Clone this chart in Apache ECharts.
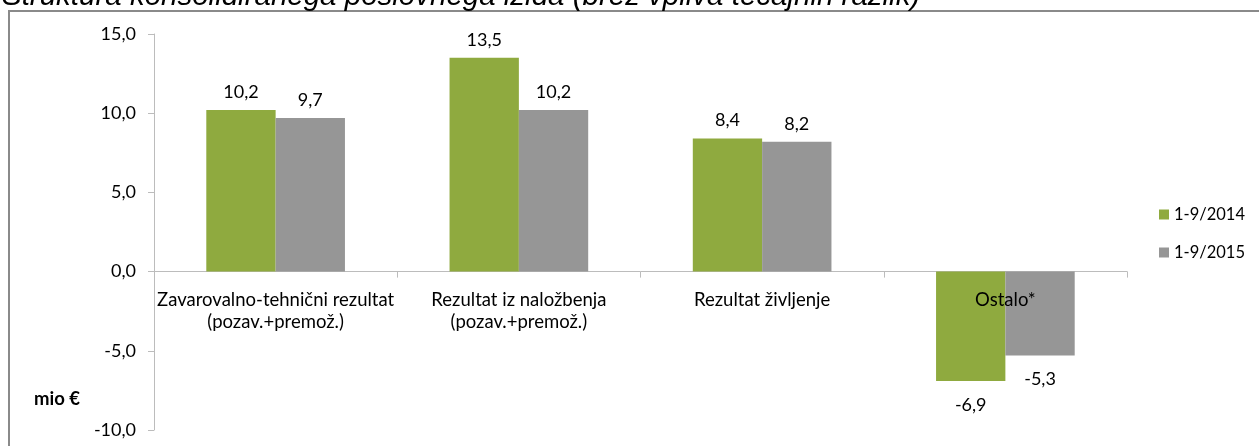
<!DOCTYPE html>
<html>
<head>
<meta charset="utf-8">
<script src="https://cdn.jsdelivr.net/npm/echarts@6/dist/echarts.min.js"></script>
<style>
  html, body { margin: 0; padding: 0; background: #fff; }
  #main { width: 1259px; height: 446px; }
</style>
</head>
<body>
<div id="main"></div>
<script>
// kategorije in vrednosti (mio €)
const categories = ['Zavarovalno-tehnični rezultat\n(pozav.+premož.)', 'Rezultat iz naložbenja\n(pozav.+premož.)', 'Rezultat življenje', 'Ostalo*']
const seriesNames = ['1-9/2014', '1-9/2015']
const values2014 = [10.2, 13.5, 8.4, -6.9]
const values2015 = [9.7, 10.2, 8.2, -5.3]
const colors = ['#8faa3f', '#969696']

const yMin = -10
const yMax = 15
const chart = echarts.init(document.getElementById('main'))
const fontFamily = 'Lato, "Noto Sans", sans-serif'
const gridTop = 34
const gridBottom = 16
const plotHeight = 446 - gridTop - gridBottom

// negativne vrednosti dobijo oznako pod stolpcem
function toData (arr) {
  return arr.map(v => ({
    value: v,
    label: v < 0 ? { position: 'bottom', distance: 15 } : {}
  }))
}

function fmt (v) {
  return v.toFixed(1).replace('.', ',')
}

const seriesArr = [values2014, values2015].map((arr, i) => ({
  name: seriesNames[i],
  type: 'bar',
  data: toData(arr),
  barGap: '0%',
  barCategoryGap: '43%',
  itemStyle: { color: colors[i] },
  label: {
    show: true,
    position: 'top',
    distance: 9,
    color: '#000',
    fontFamily: fontFamily,
    fontSize: 18,
    formatter: p => fmt(p.value)
  }
}))

const option = {
  animation: false,
  grid: { left: 154, right: 132, top: gridTop, bottom: gridBottom, containLabel: false, outerBoundsMode: 'none' },
  legend: {
    data: seriesNames,
    orient: 'vertical',
    left: 1159,
    top: 206,
    padding: 0,
    icon: 'rect',
    itemWidth: 10,
    itemHeight: 10,
    itemGap: 21,
    textStyle: { fontFamily: fontFamily, fontSize: 16.5, color: '#000' }
  },
  xAxis: [
    {
      type: 'category',
      data: categories,
      axisLine: { onZero: true, lineStyle: { color: '#bcbcbc', width: 1 } },
      axisTick: { show: true, alignWithLabel: false, length: 6, lineStyle: { color: '#bcbcbc' } },
      axisLabel: { show: false }
    },
    {
      // samo oznake kategorij, premaknjene na ničelno črto, nad stolpci
      type: 'category',
      data: categories,
      position: 'bottom',
      z: 10,
      offset: -plotHeight * (0 - yMin) / (yMax - yMin),
      axisLine: { show: false, onZero: false },
      axisTick: { show: false },
      axisLabel: {
        interval: 0,
        margin: 17,
        color: '#000',
        fontFamily: fontFamily,
        fontSize: 18.5,
        lineHeight: 22
      }
    }
  ],
  yAxis: {
    type: 'value',
    min: yMin,
    max: yMax,
    interval: 5,
    splitLine: { show: false },
    axisLine: { show: true, lineStyle: { color: '#bcbcbc' } },
    axisTick: { show: true, length: 6, lineStyle: { color: '#bcbcbc' } },
    axisLabel: {
      margin: 18,
      color: '#000',
      fontFamily: fontFamily,
      fontSize: 18,
      formatter: v => fmt(v)
    }
  },
  graphic: [
    {
      type: 'rect',
      shape: { x: 9, y: 11, width: 1400, height: 600 },
      style: { fill: 'none', stroke: '#8a8a8a', lineWidth: 2 },
      silent: true
    },
    {
      type: 'text',
      style: {
        text: 'Struktura konsolidiranega poslovnega izida (brez vpliva tečajnih razlik)',
        x: 2,
        y: 12,
        verticalAlign: 'bottom',
        fill: '#000',
        font: 'italic 29.5px "Liberation Sans", Arial, sans-serif'
      }
    },
    {
      type: 'text',
      style: {
        text: 'mio €',
        x: 34,
        y: 399,
        verticalAlign: 'middle',
        fill: '#000',
        font: 'bold 18.5px ' + fontFamily
      }
    }
  ],
  series: seriesArr
}

chart.setOption(option)
</script>
</body>
</html>
